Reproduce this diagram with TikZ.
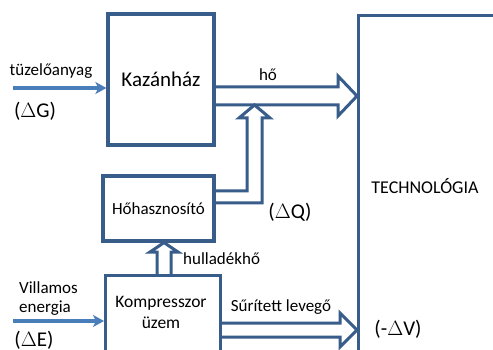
\documentclass[tikz,border=0pt]{standalone}
\usepackage{fontspec}
\setmainfont{Carlito}
\usetikzlibrary{arrows.meta}
\definecolor{boxblue}{HTML}{385D8A}
\definecolor{feedblue}{HTML}{4A7EBB}
\begin{document}
\begin{tikzpicture}[x=1pt,y=-1pt,
  unit/.style={draw=boxblue,line width=3.2pt,inner sep=0pt,fill=white},
  flow/.style={draw=boxblue,line width=3pt,line join=miter},
  feed/.style={draw=feedblue,line width=3.2pt,-{Stealth[length=11pt,width=12pt,inset=3pt]}},
  lbl/.style={inner sep=0pt,font=\fontsize{17}{20}\selectfont},
  big/.style={inner sep=0pt,font=\fontsize{21}{25}\selectfont}]
\useasboundingbox (0,0) rectangle (493,350);
\fill[white] (0,0) rectangle (493,350);

% units
\node[unit,minimum width=106pt,minimum height=131pt,big] (kazan) at (161,79.5) {Kazánház};
\node[unit,minimum width=111pt,minimum height=65pt,lbl] (hhasz) at (158.5,208.5) {Hőhasznosító};
\node[unit,minimum width=115pt,minimum height=90pt,anchor=north west] (komp) at (104,274) {};
\node[lbl,align=center,font=\fontsize{17.5}{21}\selectfont] (komptxt) at (161,312) {Kompresszor\\üzem};
\node[unit,minimum width=170pt,minimum height=360pt,anchor=north west] (tech) at (357,14) {};
\node[inner sep=0pt,font=\fontsize{18}{21}\selectfont] (techtxt) at (425,186) {TECHNOLÓGIA};

% heat from the boiler house
\draw[flow] (kazan.east |- 0,87) -- (338,87) -- (338,76) -- (tech.west |- 0,96)
  -- (338,116) -- (338,105) -- (kazan.east |- 0,105);
% recovered heat joining the heat flow
\draw[flow] (hhasz.east |- 0,191) -- (247,191) -- (247,118) -- (239,118) -- (254.5,105)
  -- (270,118) -- (262,118) -- (262,203) -- (hhasz.east |- 0,203);
% waste heat from the compressors
\draw[flow] (157,0 |- komp.north) -- (157,252) -- (150,252) -- (164,0 |- hhasz.south)
  -- (178,252) -- (171,252) -- (171,0 |- komp.north);
% compressed air
\draw[flow] (komp.east |- 0,323) -- (340,323) -- (340,313) -- (tech.west |- 0,330)
  -- (340,347) -- (340,337) -- (komp.east |- 0,337);

% inputs
\coordinate (fuel) at (13,88);
\coordinate (elec) at (13,321);
\draw[feed] (fuel) -- (kazan.west |- fuel);
\draw[feed] (elec) -- (komp.west |- elec);

% labels
\node[lbl] (lfuel) at (51,71) {tüzelőanyag};
\node[big] (ldg) at (35,111) {(\(\Delta\)G)};
\node[lbl,anchor=west] (lvill) at (19,288) {Villamos};
\node[lbl,anchor=west] (lener) at (19,308) {energia};
\node[big] (lde) at (34,340) {(\(\Delta\)E)};
\node[lbl] (lho) at (268,75) {hő};
\node[big] (ldq) at (290,212) {(\(\Delta\)Q)};
\node[lbl,anchor=west] (lhull) at (183,259) {hulladékhő};
\node[lbl] (lsur) at (281,307) {Sűrített levegő};
\node[big] (ldv) at (398,329) {(-\(\Delta\)V)};
\end{tikzpicture}
\end{document}
